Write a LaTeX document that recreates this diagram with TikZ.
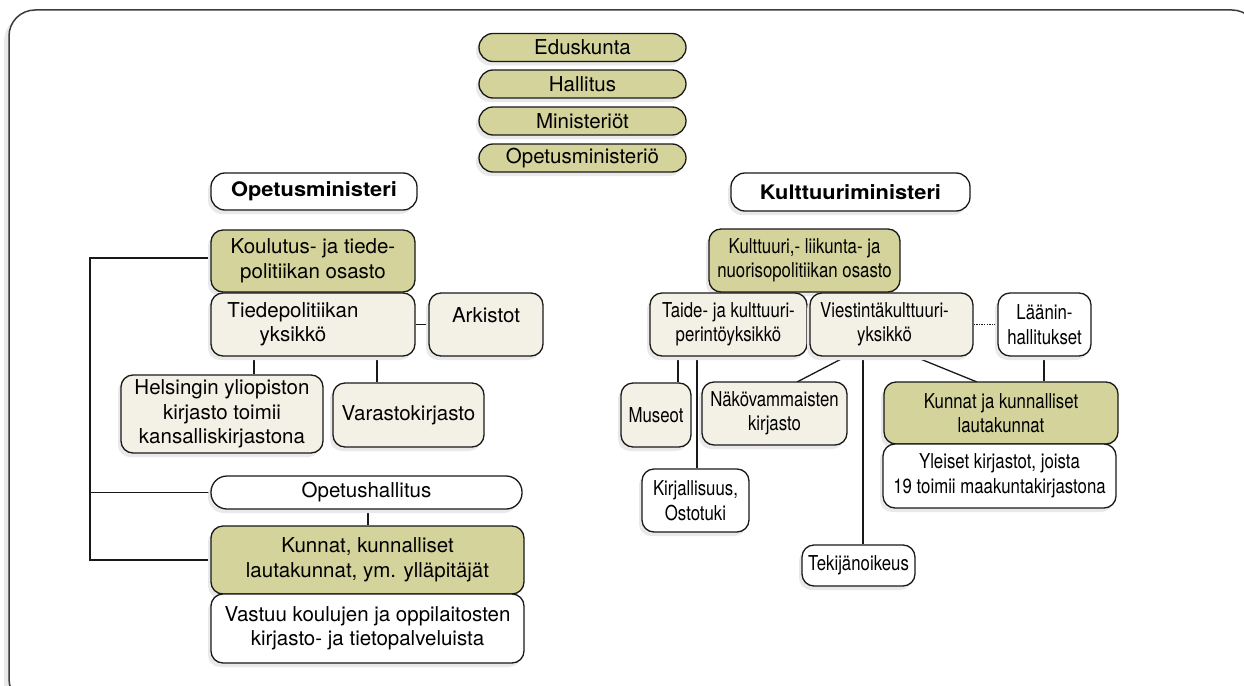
\documentclass[tikz,border=0pt]{standalone}
\usepackage{fontspec}
\setmainfont{TeX Gyre Heros}
\newfontfamily\narrowfont[FakeStretch=0.82]{TeX Gyre Heros}
\newfontfamily\blackfont[FakeStretch=1.09]{TeX Gyre Heros}
\usetikzlibrary{shadows,backgrounds}
\definecolor{olivefill}{RGB}{211,211,155}
\definecolor{creamfill}{RGB}{243,241,229}
\definecolor{shadefill}{RGB}{233,233,233}
\definecolor{ink}{RGB}{25,25,25}
\begin{document}
\begin{tikzpicture}[x=1pt,y=-1pt,
  font=\fontsize{20.5}{24.5}\selectfont,
  shd/.style={drop shadow={shadow xshift=-3pt,shadow yshift=-4pt,fill=shadefill,opacity=1}},
  box/.style={draw=ink,line width=1.3pt,rounded corners=12pt,align=center,inner sep=0pt,shd},
  olivebox/.style={box,fill=olivefill},
  creambox/.style={box,fill=creamfill},
  whitebox/.style={box,fill=white},
  pill/.style={olivebox,rounded corners=14pt,minimum width=207pt,minimum height=28pt},
  ministerbox/.style={whitebox,rounded corners=14pt,font=\fontsize{20}{24.5}\blackfont\bfseries},
  rightside/.style={font=\fontsize{20.5}{24.5}\narrowfont},
  conn/.style={draw=ink,line width=1.3pt},
  dotconn/.style={draw=ink,line width=1.2pt,dash pattern=on 1.3pt off 1.3pt}
]
\useasboundingbox (0,0) rectangle (1244,685);
% frame
\begin{scope}[on background layer]
  \clip (0,0) rectangle (1244,685);
  \draw[line width=1.5pt,draw=ink!85,rounded corners=26pt,fill=white,
        drop shadow={shadow xshift=-5pt,shadow yshift=-5pt,fill=shadefill,opacity=1}]
        (9,10) rectangle (1258,705);
\end{scope}

% top pills
\node[pill] (ed) at (582.5,47.5) {Eduskunta};
\node[pill] (ha) at (582.5,84) {Hallitus};
\node[pill] (mi) at (582.5,121) {Ministeriöt};
\node[pill] (om) at (582.5,158) {Opetusministeriö};

% ministers
\node[ministerbox,minimum width=206pt,minimum height=37pt] (opm) at (314,191.5) {Opetusministeri};
\node[ministerbox,minimum width=239pt,minimum height=38pt] (kum) at (850.5,192) {Kulttuuriministeri};

% left branch
\node[olivebox,minimum width=204pt,minimum height=62pt] (kt) at (313,261) {Koulutus- ja tiede-\\politiikan osasto};
\node[creambox,minimum width=204pt,minimum height=63pt] (tp) at (313,324.5) {\hspace*{-40pt}\begin{tabular}{@{}c@{}}Tiedepolitiikan\\yksikkö\end{tabular}};
\node[creambox,minimum width=114pt,minimum height=63pt,text height=15pt,text depth=20pt] (ark) at (486,324.5) {Arkistot};
\node[creambox,minimum width=202pt,minimum height=78pt] (hy) at (222,414) {Helsingin yliopiston\\kirjasto toimii\\kansalliskirjastona};
\node[creambox,minimum width=151pt,minimum height=64pt] (va) at (408.5,415) {Varastokirjasto};
\node[whitebox,rounded corners=16pt,minimum width=311pt,minimum height=33pt] (oh) at (366.5,492.5) {Opetushallitus};
\node[olivebox,minimum width=313pt,minimum height=68pt] (kl) at (367.5,560) {Kunnat, kunnalliset\\lautakunnat, ym. ylläpitäjät};
\node[whitebox,minimum width=313pt,minimum height=69pt] (vk) at (367.5,628.5) {Vastuu koulujen ja oppilaitosten\\kirjasto- ja tietopalveluista};

% right branch
\node[olivebox,rightside,minimum width=191pt,minimum height=63pt] (ko) at (804.5,260.5) {Kulttuuri,- liikunta- ja\\nuorisopolitiikan osasto};
\node[creambox,rightside,minimum width=157pt,minimum height=63pt] (ta) at (728.5,324.5) {Taide- ja kulttuuri-\\perintöyksikkö};
\node[creambox,rightside,minimum width=163pt,minimum height=63pt] (vi) at (891.5,324.5) {\hspace*{-14pt}\begin{tabular}{@{}c@{}}Viestintäkulttuuri-\\yksikkö\end{tabular}};
\node[whitebox,rightside,minimum width=93pt,minimum height=63pt] (la) at (1044.5,324.5) {Läänin-\\hallitukset};
\node[creambox,rightside,minimum width=70pt,minimum height=64pt] (mu) at (656,415) {Museot};
\node[creambox,rightside,minimum width=145pt,minimum height=63pt] (nk) at (774.5,413.5) {Näkövammaisten\\kirjasto};
\node[olivebox,rightside,minimum width=234pt,minimum height=62pt] (kr) at (1001,413) {Kunnat ja kunnalliset\\lautakunnat};
\node[whitebox,rightside,minimum width=233pt,minimum height=64pt] (yk) at (999.5,476) {Yleiset kirjastot, joista\\19 toimii maakuntakirjastona};
\node[whitebox,rightside,minimum width=107pt,minimum height=63pt] (ki) at (695.5,500.5) {Kirjallisuus,\\Ostotuki};
\node[whitebox,rightside,minimum width=113pt,minimum height=41pt] (te) at (858.5,565.5) {Tekijänoikeus};

% helper coordinates for connector columns
\coordinate (spine) at (90,0);
\coordinate (c254) at (254,0);
\coordinate (c377) at (377,0);
\coordinate (c368) at (368,0);
\coordinate (c678) at (678,0);
\coordinate (c697) at (697,0);
\coordinate (c863) at (863,0);
\coordinate (c1044) at (1044,0);
\coordinate (v1) at (847,356);
\coordinate (n1) at (797,382);
\coordinate (v2) at (913,356);
\coordinate (k2) at (977,382);
\coordinate (r258) at (0,258);

\begin{scope}[on background layer]
% left connectors
\draw[conn] (kt.west |- r258) -- (spine |- r258) -- (spine |- kl.west) -- (kl.west);
\draw[conn] (spine |- oh.west) -- (oh.west);
\draw[conn] (tp.east) -- (ark.west);
\draw[conn] (c254 |- tp.south) -- (c254 |- hy.north);
\draw[conn] (c377 |- tp.south) -- (c377 |- va.north);
\draw[conn] (c368 |- oh.south) -- (c368 |- kl.north);
% right connectors
\draw[conn] (c678 |- ta.south) -- (c678 |- mu.north);
\draw[conn] (c697 |- ta.south) -- (c697 |- ki.north);
\draw[conn] (v1) -- (n1);
\draw[conn] (v2) -- (k2);
\draw[conn] (c863 |- vi.south) -- (c863 |- te.north);
\draw[dotconn] (vi.east) -- (la.west);
\draw[conn] (c1044 |- la.south) -- (c1044 |- kr.north);
\end{scope}
\end{tikzpicture}
\end{document}
